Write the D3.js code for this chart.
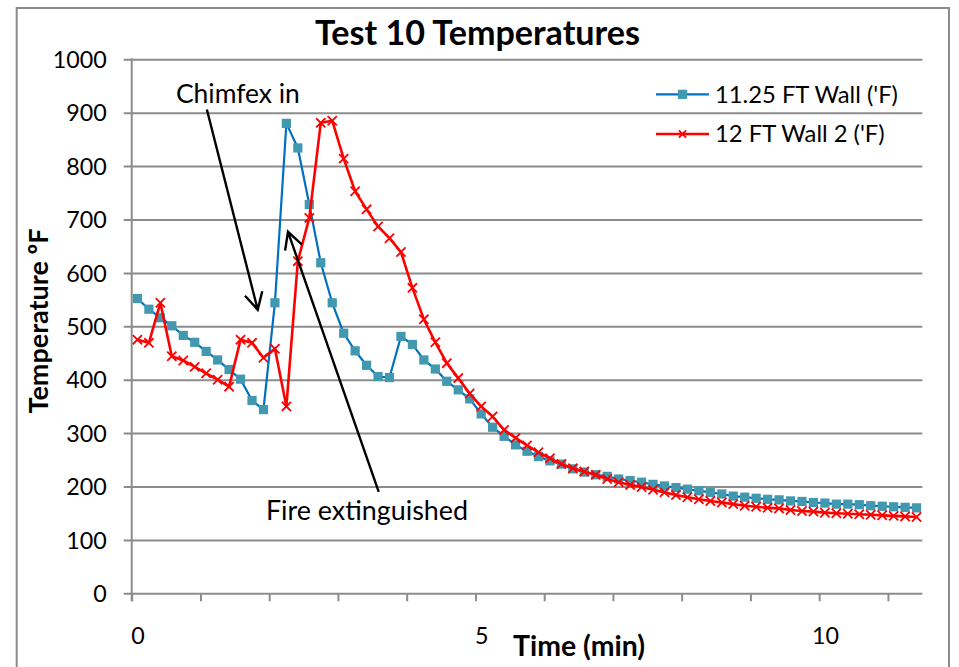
<!DOCTYPE html>
<html><head><meta charset="utf-8">
<script src="https://cdn.jsdelivr.net/npm/d3@7"></script>
<style>
body{margin:0;background:#fff}
svg{display:block}
text{font-family:Lato,"Open Sans",sans-serif;fill:#000}
</style>
</head><body><svg id="c" width="959" height="667"></svg>
<script>
// ---------------- data ----------------
const chartTitle = "Test 10 Temperatures";
const xTitle = "Time (min)";
const yTitle = "Temperature ºF";
const seriesNames = ["11.25 FT Wall ('F)", "12 FT Wall 2 ('F)"];
const sampleSeconds = 10;               // one reading every 10 s
const wall1125 = [552,532,516,501,483,470,453,437,419,401,361,344,544,880,834,728,619,544,487,454,
                  427,406,404,481,466,437,420,397,381,364,336,311,294,278,266,256,248,242,233,227,
                  222,219,214,211,208,204,201,198,195,192,189,186,182,180,178,176,175,173,172,170,
                  169,167,167,166,164,163,162,161,160];
const wall12b = [475,469,544,444,436,424,412,400,387,475,469,441,458,350,622,703,881,885,814,753,
                 719,687,665,639,572,513,470,431,403,374,350,331,306,291,277,264,253,242,234,228,
                 222,214,208,203,199,194,189,184,180,176,173,170,167,164,162,160,159,156,154,153,
                 151,150,149,148,147,146,145,144,143];
const yTickValues = [0,100,200,300,400,500,600,700,800,900,1000];
const yTickText = ["0","100","200","300","400","500","600","700","800","900","1000"];
const xLabelValues = [0,5,10];
const xLabelText = ["0","5","10"];
const annotations = [
  {text:"Chimfex in",        tx:0.56, ty:919, x1:1.01, y1:906, x2:1.75, y2:531},
  {text:"Fire extinguished", tx:1.87, ty:137, x1:3.51, y1:190, x2:2.19, y2:677}
];

// ---------------- layout ----------------
const svg = d3.select("#c");
const P = {left:131.7, right:922.3, top:59.3, bottom:593.3};
const step = sampleSeconds/60;
const n = wall1125.length;
const times = d3.range(n).map(i => i*step);
const x = d3.scaleLinear().domain([-step/2, n*step - step/2]).range([P.left, P.right]);
const y = d3.scaleLinear().domain([0,1000]).range([P.bottom, P.top]);
const grid = "#8c8c8c";

function fit(sel, w){
  const L = sel.node().getComputedTextLength();
  const fs = parseFloat(sel.attr("font-size"));
  sel.attr("font-size", (fs*w/L).toFixed(2));
  return +(fs*w/L).toFixed(2);
}

// outer frame
svg.append("rect").attr("x",16.7).attr("y",8).attr("width",932.3).attr("height",680)
  .attr("fill","#fff").attr("stroke",grid).attr("stroke-width",2);

// title
const t = svg.append("text").attr("x",477.5).attr("y",45).attr("text-anchor","middle")
  .attr("font-weight","bold").attr("font-size",34).text(chartTitle);
fit(t,325);

// horizontal gridlines (with outward ticks)
const gAxisY = svg.append("g").attr("transform",`translate(${P.left},0)`)
  .call(d3.axisLeft(y).tickValues(yTickValues).tickSizeInner(-(P.right-P.left)).tickSizeOuter(0).tickFormat(""));
gAxisY.select(".domain").remove();
gAxisY.selectAll(".tick line").attr("x1",-8).attr("stroke",grid).attr("stroke-width",2);

// y labels
const gYL = svg.append("g").attr("transform",`translate(${P.left},0)`)
  .call(d3.axisLeft(y).tickValues(yTickValues).tickSize(0).tickPadding(25).tickFormat((d,i)=>yTickText[i]));
gYL.select(".domain").remove();
gYL.selectAll("text").attr("font-size",24).attr("font-family",null).attr("dy","0.35em");
const yfs = fit(gYL.selectAll("text").filter(d=>d===1000), 54);
gYL.selectAll("text").attr("font-size",yfs);

// vertical axis line
svg.append("line").attr("x1",P.left).attr("x2",P.left).attr("y1",P.top-1).attr("y2",P.bottom+8)
  .attr("stroke",grid).attr("stroke-width",2);

// x axis tick marks at every minute boundary (every 6 readings)
const tickBounds = d3.range(0, n, 6).map(i => i*step - step/2);
const gX = svg.append("g").attr("transform",`translate(0,${P.bottom})`)
  .call(d3.axisBottom(x).tickValues(tickBounds).tickSize(8).tickSizeOuter(0).tickFormat(""));
gX.select(".domain").remove();
gX.selectAll(".tick line").attr("stroke",grid).attr("stroke-width",2);

// x labels
const gXL = svg.append("g").attr("transform",`translate(0,${P.bottom})`)
  .call(d3.axisBottom(x).tickValues(xLabelValues).tickSize(0).tickFormat((d,i)=>xLabelText[i]));
gXL.select(".domain").remove();
gXL.selectAll("text").attr("font-family",null).attr("font-size",yfs).attr("dy",null).attr("y",51);

// axis titles
const xt = svg.append("text").attr("x",579).attr("y",656).attr("text-anchor","middle")
  .attr("font-weight","bold").attr("font-size",24).text(xTitle);
fit(xt,132);
const yt = svg.append("text").attr("transform","translate(48,321) rotate(-90)").attr("text-anchor","middle")
  .attr("font-weight","bold").attr("font-size",24).text(yTitle);
fit(yt,185);

// series
const colors = {blueLine:"#0070c0", blueMark:"#4198af", red:"#ff0000"};
const line = d3.line().x((d,i)=>x(times[i])).y(d=>y(d));

const gB = svg.append("g");
gB.append("path").datum(wall1125).attr("d",line).attr("fill","none")
  .attr("stroke",colors.blueLine).attr("stroke-width",2.2).attr("stroke-linejoin","round");
gB.selectAll("rect").data(wall1125).join("rect")
  .attr("x",(d,i)=>x(times[i])-4.6).attr("y",d=>y(d)-4.6).attr("width",9.2).attr("height",9.2)
  .attr("fill",colors.blueMark);

const gR = svg.append("g");
gR.append("path").datum(wall12b).attr("d",line).attr("fill","none")
  .attr("stroke",colors.red).attr("stroke-width",2.6).attr("stroke-linejoin","round");
const xMark = s => `M${-s},${-s}L${s},${s}M${-s},${s}L${s},${-s}`;
gR.selectAll("path.m").data(wall12b).join("path").attr("class","m")
  .attr("transform",(d,i)=>`translate(${x(times[i])},${y(d)})`)
  .attr("d",xMark(4.6)).attr("stroke",colors.red).attr("stroke-width",1.8).attr("fill","none");

// legend
const legY = [94.3, 134];
const gl = svg.append("g");
gl.append("line").attr("x1",656).attr("x2",709).attr("y1",legY[0]).attr("y2",legY[0])
  .attr("stroke",colors.blueLine).attr("stroke-width",2.2);
gl.append("rect").attr("x",682.5-4.6).attr("y",legY[0]-4.6).attr("width",9.2).attr("height",9.2).attr("fill",colors.blueMark);
gl.append("line").attr("x1",656).attr("x2",709).attr("y1",legY[1]).attr("y2",legY[1])
  .attr("stroke",colors.red).attr("stroke-width",2.6);
gl.append("path").attr("transform",`translate(682.5,${legY[1]})`).attr("d",xMark(3.6))
  .attr("stroke",colors.red).attr("stroke-width",1.8);
const lt = seriesNames.map((s,k)=> gl.append("text").attr("x",715).attr("y",legY[k]).attr("dy","0.35em")
  .attr("font-size",24).text(s));
const lfs = fit(lt[0],183);
lt[1].attr("font-size",lfs);

// annotations
const ga = svg.append("g");
annotations.forEach(a=>{
  const at = ga.append("text").attr("x",x(a.tx)).attr("y",y(a.ty)).attr("font-size",26).text(a.text);
  const X1=x(a.x1),Y1=y(a.y1),X2=x(a.x2),Y2=y(a.y2);
  const ang=Math.atan2(Y1-Y2,X1-X2), L=19, sp=28*Math.PI/180;
  const h1=[X2+L*Math.cos(ang+sp),Y2+L*Math.sin(ang+sp)], h2=[X2+L*Math.cos(ang-sp),Y2+L*Math.sin(ang-sp)];
  ga.append("path").attr("d",`M${X1},${Y1}L${X2},${Y2}M${h1}L${X2},${Y2}L${h2}`)
    .attr("fill","none").attr("stroke","#000").attr("stroke-width",2.4).attr("stroke-linejoin","miter");
  a._t = at;
});
fit(annotations[0]._t,124);
fit(annotations[1]._t,202);
</script>
</body></html>
